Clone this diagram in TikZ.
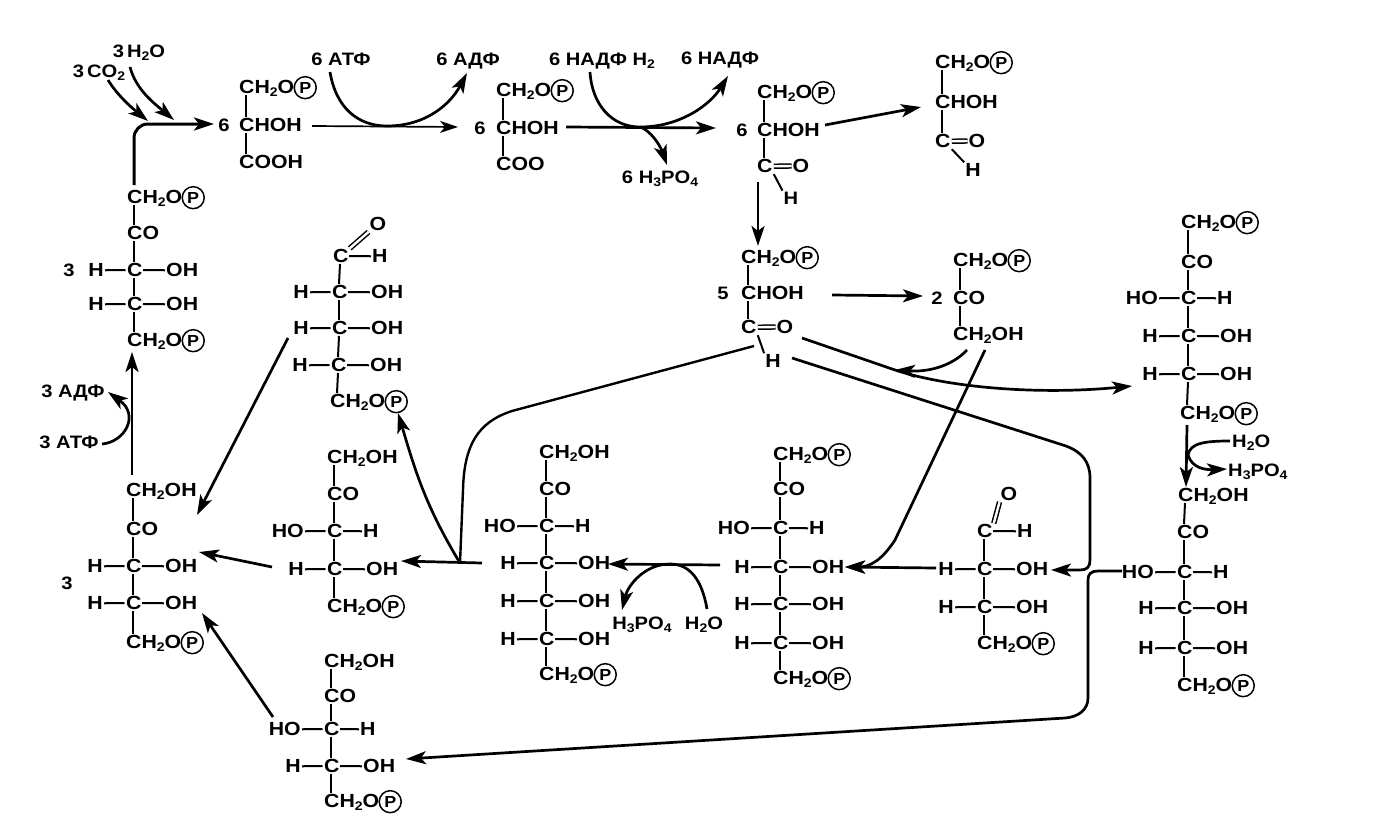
\documentclass[tikz,border=0pt]{standalone}
\usepackage{fontspec}
\setmainfont[FakeStretch=1.12]{Liberation Sans}
\usetikzlibrary{arrows.meta}
\newcommand{\sbs}[1]{\raisebox{-3pt}{\fontsize{12.5}{12.5}\selectfont #1}}
\newcommand{\atom}[4]{%
 \node[txt,anchor=base west] (#1) at (#2-8,#3+6.8) {C#4};
 \coordinate (#1-t) at (#2,#3-8);
 \coordinate (#1-b) at (#2,#3+8);
 \coordinate (#1-l) at (#2-8.5,#3);
 \coordinate (#1-r) at (#2+9,#3);}
\newcommand{\pgrp}[3]{\atom{#1}{#2}{#3}{H\sbs{2}O}
 \node[pcirc,anchor=west] (#1-P) at ([xshift=-2pt,yshift=1pt]#1.east) {P};}
\newcommand{\crow}[5]{\atom{#1}{#2}{#3}{}
 \node[txt,anchor=base east] (#1-L) at (#2-29,#3+6.8) {#4};
 \node[txt,anchor=base west] (#1-R) at (#2+31,#3+6.8) {#5};
 \draw[bond] (#1-L.east)--(#1-l); \draw[bond] (#1-r)--(#1-R.west);}
\newcommand{\crowb}[5]{\atom{#1}{#2}{#3}{}
 \node[txt,anchor=base east] (#1-L) at (#2-29,#3+6.8) {#4};
 \node[txt,anchor=base west] (#1-R) at (#2+28,#3+6.8) {#5};
 \draw[bond] (#1-L.east)--(#1-l); \draw[bond] (#1-r)--(#1-R.west);}
\newcommand{\lnk}[2]{\draw[bond] (#1-b)--(#2-t);}
\tikzset{
 txt/.style={inner sep=1pt,font=\fontsize{19}{20}\selectfont\bfseries},
 lab/.style={inner sep=1pt,font=\fontsize{18}{19}\selectfont\bfseries},
 pcirc/.style={circle,draw,line width=1.5pt,inner sep=0pt,minimum size=22pt,font=\fontsize{16}{16}\selectfont\bfseries},
 bond/.style={line width=2pt},
 dbl/.style={line width=1.5pt,double,double distance=2.4pt},
 arr/.style={line width=2.7pt,-{Stealth[length=20pt,width=13pt,inset=5pt]}},
 thinarr/.style={line width=1.7pt,-{Stealth[length=18pt,width=12pt,inset=5pt]}},
}
\begin{document}
\begin{tikzpicture}[x=1pt,y=-1pt]
\useasboundingbox (0,0) rectangle (1389,827);
% --- free labels
\node[lab,anchor=center] (co) at (99,73) {3\,CO\sbs{2}};
\node[lab,anchor=center] (wa) at (139,53) {3\,H\sbs{2}O};
\node[lab,anchor=center] (atf) at (341,59) {6 АТФ};
\node[lab,anchor=center] (adf) at (468,61) {6 АДФ};
\node[lab,anchor=center] (nh) at (602,61) {6 НАДФ H\sbs{2}};
\node[lab,anchor=center] (nd) at (720,60) {6 НАДФ};
\node[lab,anchor=center] (hp) at (660,179) {6 H\sbs{3}PO\sbs{4}};
\node[lab,anchor=center] (adfb) at (73,393) {3 АДФ};
\node[lab,anchor=center] (atfb) at (69,442) {3 АТФ};
\node[lab] (n1) at (69,270) {3};
\node[lab] (n2) at (67,583) {3};
\node[lab] (n3) at (224,125) {6};
\node[lab] (n4) at (480,128) {6};
\node[lab] (n5) at (742,130) {6};
\node[lab] (n6) at (723,293) {5};
\node[lab] (n7) at (937,298) {2};
% --- S1
\pgrp{sa1}{134}{197}
\atom{sa2}{134}{233}{O}
\crow{sa3}{134}{270}{H}{OH}
\crow{sa4}{134}{304}{H}{OH}
\pgrp{sa5}{134}{340}
\lnk{sa1}{sa2}\lnk{sa2}{sa3}\lnk{sa3}{sa4}\lnk{sa4}{sa5}
% --- S2
\pgrp{sb1}{246}{87}
\atom{sb2}{246}{125}{HOH}
\atom{sb3}{246}{162}{OOH}
\lnk{sb1}{sb2}\lnk{sb2}{sb3}
% --- S3
\pgrp{sc1}{503}{90}
\atom{sc2}{503}{128}{HOH}
\atom{sc3}{503}{164}{OO}
\lnk{sc1}{sc2}\lnk{sc2}{sc3}
% --- S4
\pgrp{sd1}{764}{92}
\atom{sd2}{764}{130}{HOH}
\atom{sd3}{764}{166}{}
\node[txt] (sdO) at (801,166) {O};
\node[lab] (sdH) at (791,198) {H};
\draw[dbl] (sd3.east)--(sdO.west);
\draw[bond] (sd3.south east)--(sdH.north west);
\lnk{sd1}{sd2}\lnk{sd2}{sd3}
% --- S5
\pgrp{se1}{942}{62}
\atom{se2}{942}{102}{HOH}
\atom{se3}{942}{141}{}
\node[txt] (seO) at (977,141) {O};
\node[txt] (seH) at (973,170) {H};
\draw[dbl] (se3.east)--(seO.west);
\draw[bond] (se3.south east)--(seH.north west);
\lnk{se1}{se2}\lnk{se2}{se3}
% --- S6
\pgrp{sf1}{748}{257}
\atom{sf2}{748}{293}{HOH}
\atom{sf3}{748}{327}{}
\node[txt] (sfO) at (785,327) {O};
\node[txt] (sfH) at (773,361) {H};
\draw[dbl] (sf3.east)--(sfO.west);
\draw[bond] (sf3.south east)--(sfH.north west);
\lnk{sf1}{sf2}\lnk{sf2}{sf3}
% --- S7
\pgrp{sg1}{960}{260}
\atom{sg2}{960}{298}{O}
\atom{sg3}{960}{334}{H\sbs{2}OH}
\lnk{sg1}{sg2}\lnk{sg2}{sg3}
% --- S8
\pgrp{sh1}{1188}{222}
\atom{sh2}{1188}{262}{O}
\crowb{sh3}{1188}{298}{HO}{H}
\crow{sh4}{1188}{336}{H}{OH}
\crow{sh5}{1188}{374}{H}{OH}
\pgrp{sh6}{1187}{413}
\lnk{sh1}{sh2}\lnk{sh2}{sh3}\lnk{sh3}{sh4}\lnk{sh4}{sh5}\lnk{sh5}{sh6}
% --- S9
\atom{si1}{1185}{495}{H\sbs{2}OH}
\atom{si2}{1184}{532}{O}
\crowb{si3}{1184}{572}{HO}{H}
\crow{si4}{1184}{608}{H}{OH}
\crow{si5}{1184}{648}{H}{OH}
\pgrp{si6}{1184}{685}
\lnk{si1}{si2}\lnk{si2}{si3}\lnk{si3}{si4}\lnk{si4}{si5}\lnk{si5}{si6}
% --- S10
\pgrp{sj1}{780}{454}
\atom{sj2}{780}{489}{O}
\crowb{sj3}{780}{528}{HO}{H}
\crow{sj4}{780}{567}{H}{OH}
\crow{sj5}{780}{604}{H}{OH}
\crow{sj6}{780}{643}{H}{OH}
\pgrp{sj7}{780}{678}
\lnk{sj1}{sj2}\lnk{sj2}{sj3}\lnk{sj3}{sj4}\lnk{sj4}{sj5}\lnk{sj5}{sj6}\lnk{sj6}{sj7}
% --- S11
\atom{sk1}{546}{452}{H\sbs{2}OH}
\atom{sk2}{546}{489}{O}
\crowb{sk3}{546}{526}{HO}{H}
\crow{sk4}{546}{563}{H}{OH}
\crow{sk5}{546}{601}{H}{OH}
\crow{sk6}{546}{639}{H}{OH}
\pgrp{sk7}{546}{674}
\lnk{sk1}{sk2}\lnk{sk2}{sk3}\lnk{sk3}{sk4}\lnk{sk4}{sk5}\lnk{sk5}{sk6}\lnk{sk6}{sk7}
% --- S12
\node[txt] (slO) at (1009,494) {O};
\atom{sl1}{984}{531}{}
\node[txt,anchor=base west] (slH) at (1016,537.8) {H};
\draw[dbl] (sl1.north east)--(slO.south west);
\draw[bond] (sl1-r)--(slH.west);
\crow{sl2}{984}{569}{H}{OH}
\crow{sl3}{984}{607}{H}{OH}
\pgrp{sl4}{984}{643}
\lnk{sl1}{sl2}\lnk{sl2}{sl3}\lnk{sl3}{sl4}
% --- S13
\atom{sm1}{334}{457}{H\sbs{2}OH}
\atom{sm2}{334}{494}{O}
\crowb{sm3}{334}{531}{HO}{H}
\crow{sm4}{334}{569}{H}{OH}
\pgrp{sm5}{334}{606}
\lnk{sm1}{sm2}\lnk{sm2}{sm3}\lnk{sm3}{sm4}\lnk{sm4}{sm5}
% --- S14
\node[txt] (snO) at (378,224) {O};
\atom{sn1}{340}{256}{}
\node[txt,anchor=base west] (snH) at (371,262.8) {H};
\draw[dbl] (sn1.north east)--(snO.south west);
\draw[bond] (sn1-r)--(snH.west);
\crow{sn2}{339}{292}{H}{OH}
\crow{sn3}{339}{328}{H}{OH}
\crow{sn4}{338}{365}{H}{OH}
\pgrp{sn5}{337}{401}
\lnk{sn1}{sn2}\lnk{sn2}{sn3}\lnk{sn3}{sn4}\lnk{sn4}{sn5}
% --- S15
\atom{so1}{133}{490}{H\sbs{2}OH}
\atom{so2}{133}{529}{O}
\crow{so3}{133}{566}{H}{OH}
\crow{so4}{133}{603}{H}{OH}
\pgrp{so5}{133}{642}
\lnk{so1}{so2}\lnk{so2}{so3}\lnk{so3}{so4}\lnk{so4}{so5}
% --- S16
\atom{sp1}{331}{661}{H\sbs{2}OH}
\atom{sp2}{331}{696}{O}
\crowb{sp3}{331}{729}{HO}{H}
\crow{sp4}{331}{766}{H}{OH}
\pgrp{sp5}{331}{801}
\lnk{sp1}{sp2}\lnk{sp2}{sp3}\lnk{sp3}{sp4}\lnk{sp4}{sp5}
% --- connector ends
\coordinate (c01) at (134,185); \coordinate (c02) at (134,124); \coordinate (c03) at (214,124);
\coordinate (c04) at (108,80); \coordinate (c05) at (148,121);
\coordinate (c06) at (130,67); \coordinate (c07) at (174,120);
\coordinate (c08) at (312,126); \coordinate (c09) at (458,127);
\coordinate (c10) at (330,72); \coordinate (c11) at (387,126); \coordinate (c12) at (467,73);
\coordinate (c13) at (566,127); \coordinate (c14) at (716,128);
\coordinate (c15) at (590,72); \coordinate (c16) at (640,127); \coordinate (c17) at (728,76);
\coordinate (c18) at (667,165);
\coordinate (c19) at (825,125); \coordinate (c20) at (921,107);
\coordinate (c21) at (758,182); \coordinate (c22) at (758,246);
\coordinate (c23) at (832,295); \coordinate (c24) at (923,296);
\coordinate (c25) at (802,338); \coordinate (c26) at (895,370); \coordinate (c27) at (1132,386);
\coordinate (c28) at (967,350);
\coordinate (c29) at (985,350); \coordinate (c30) at (895,540); \coordinate (c31) at (845,567);
\coordinate (c32) at (792,358); \coordinate (c35) at (1051,570);
\coordinate (c36) at (1122,571); \coordinate (c39) at (406,759);
\coordinate (c40) at (936,568);
\coordinate (c41) at (720,565); \coordinate (c42) at (608,564);
\coordinate (c43) at (707,609); \coordinate (c44) at (622,610);
\coordinate (c45) at (754,346); \coordinate (c46) at (460,563); \coordinate (c47) at (482,563); \coordinate (c48) at (401,561);
\coordinate (c49) at (398,413);
\coordinate (c50) at (288,338); \coordinate (c51) at (197,515);
\coordinate (c52) at (272,567); \coordinate (c53) at (199,552);
\coordinate (c54) at (273,717); \coordinate (c55) at (202,613);
\coordinate (c56) at (132,475); \coordinate (c57) at (132,352);
\coordinate (c58) at (102,444); \coordinate (c59) at (108,392);
\coordinate (c60) at (1187,425); \coordinate (c61) at (1186,487);
\coordinate (c62) at (1230,441); \coordinate (c63) at (1188,455); \coordinate (c64) at (1227,469);
% --- arrow labels on the right chain
\node[lab,anchor=west] (w1) at (1231,443) {H\sbs{2}O};
\node[lab,anchor=west] (w2) at (1227,472) {H\sbs{3}PO\sbs{4}};
\node[lab,anchor=center] (w3) at (704,625) {H\sbs{2}O};
\node[lab,anchor=center] (w4) at (642,625) {H\sbs{3}PO\sbs{4}};
% --- connectors
\draw[arr,rounded corners=14pt,line width=3pt] (c01)--(c02)--(c03);
\draw[arr] (c04) .. controls (118,96) and (132,108) .. (c05);
\draw[arr] (c06) .. controls (136,90) and (155,104) .. (c07);
\draw[thinarr] (c08)--(c09);
\draw[arr] (c10) .. controls (336,108) and (358,126) .. (c11) .. controls (425,126) and (450,105) .. (c12);
\draw[arr] (c13)--(c14);
\draw[arr] (c15) .. controls (592,105) and (612,127) .. (c16) .. controls (680,127) and (710,105) .. (c17);
\draw[arr] (c16) .. controls (650,130) and (660,145) .. (c18);
\draw[arr] (c19)--(c20);
\draw[arr] (c21)--(c22);
\draw[arr] (c23)--(c24);
\draw[arr] (c25)--(c26) .. controls (950,388) and (1040,395) .. (c27);
\draw[arr] (c28) .. controls (950,368) and (925,372) .. (c26);
\draw[arr] (c29)--(c30) .. controls (882,560) and (870,567) .. (c31);
\draw[arr] (c32)--(1066,446) .. controls (1082,452) and (1090,462) .. (1090,478) -- (1090,560) .. controls (1090,567) and (1087,570) .. (1080,570) -- (c35);
\draw[arr] (c36)--(1098,571) .. controls (1091,571) and (1088,574) .. (1088,580) -- (1088,698) .. controls (1088,710) and (1078,717) .. (1065,718) -- (c39);
\draw[arr] (c40)--(c31);
\draw[arr] (c41)--(c42);
\draw[arr] (c43) .. controls (702,580) and (690,564) .. (670,564) .. controls (645,564) and (628,585) .. (c44);
\draw[line width=2.4pt] (c45)--(512,411) .. controls (478,422) and (464,445) .. (463,490) -- (c46);
\draw[arr] (c47)--(c48);
\draw[arr] (c46) .. controls (425,505) and (415,470) .. (c49);
\draw[arr] (c50)--(c51);
\draw[arr] (c52)--(c53);
\draw[arr] (c54)--(c55);
\draw[arr] (c56)--(c57);
\draw[arr] (c58) .. controls (125,442) and (140,415) .. (c59);
\draw[arr] (c60)--(c61);
\draw[arr] (c62) .. controls (1205,441) and (1190,443) .. (c63) .. controls (1192,468) and (1205,470) .. (c64);
\end{tikzpicture}
\end{document}
